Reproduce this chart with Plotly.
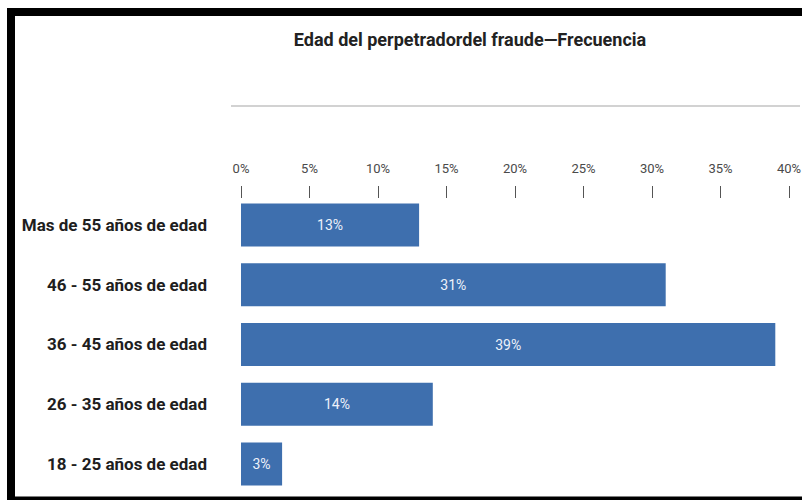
import plotly.graph_objects as go

# Datos
categorias = [
    "18 - 25 años de edad",
    "26 - 35 años de edad",
    "36 - 45 años de edad",
    "46 - 55 años de edad",
    "Mas de 55 años de edad",
]
porcentajes = [3, 14, 39, 31, 13]
ticks_x = [0, 5, 10, 15, 20, 25, 30, 35, 40]
etiquetas_x = ["0%", "5%", "10%", "15%", "20%", "25%", "30%", "35%", "40%"]
titulo = "Edad del perpetradordel fraude—Frecuencia"

# Geometría de la figura (px)
ANCHO, ALTO = 802, 500
M_IZQ, M_DER, M_SUP, M_INF = 241, 13, 199, 10
PW = ANCHO - M_IZQ - M_DER
PH = ALTO - M_SUP - M_INF

FUENTE = "Roboto, Liberation Sans, Arial, sans-serif"
AZUL = "#3E6FAE"


def px_x(x):
    return (x - M_IZQ) / PW


def px_y(y):
    return (ALTO - M_INF - y) / PH


fig = go.Figure(
    go.Bar(
        x=porcentajes,
        y=categorias,
        orientation="h",
        width=0.72,
        marker=dict(color=AZUL, line=dict(width=0)),
        texttemplate="%{x}%",
        textposition="inside",
        insidetextanchor="middle",
        textfont=dict(family=FUENTE, size=14, color="#eef2fa"),
        hoverinfo="skip",
    )
)

fig.update_layout(
    width=ANCHO,
    height=ALTO,
    margin=dict(l=M_IZQ, r=M_DER, t=M_SUP, b=M_INF, autoexpand=False),
    paper_bgcolor="white",
    plot_bgcolor="white",
    showlegend=False,
    title=dict(
        text=titulo,
        font=dict(family=FUENTE, size=18, color="#222222", weight="bold"),
        x=px_x(470),
        xref="paper",
        xanchor="center",
        y=1 - 40 / ALTO,
        yref="container",
        yanchor="middle",
    ),
    xaxis=dict(
        side="top",
        range=[0, 40],
        tickmode="array",
        tickvals=ticks_x,
        ticktext=etiquetas_x,
        ticks="outside",
        ticklen=12,
        tickwidth=1,
        tickcolor="#555555",
        tickfont=dict(family=FUENTE, size=13, color="#4a4a4a"),
        ticklabelstandoff=8,
        ticklabeloverflow="allow",
        showgrid=False,
        zeroline=False,
        showline=False,
        fixedrange=True,
    ),
    yaxis=dict(
        type="category",
        categoryorder="array",
        categoryarray=categorias,
        range=[-0.435, 4.435],
        ticks="",
        tickfont=dict(family=FUENTE, size=17, color="#1e1e1e", weight="bold"),
        ticklabelstandoff=33,
        showgrid=False,
        zeroline=False,
        showline=False,
        fixedrange=True,
    ),
    shapes=[
        # línea gris bajo el título
        dict(type="line", xref="paper", yref="paper",
             x0=px_x(231), x1=px_x(800), y0=px_y(106), y1=px_y(106),
             line=dict(color="#d2d2d2", width=2)),
        # marco negro: arriba, izquierda, abajo
        dict(type="rect", xref="paper", yref="paper",
             x0=px_x(7), x1=px_x(803), y0=px_y(16), y1=px_y(8),
             fillcolor="black", line=dict(width=0)),
        dict(type="rect", xref="paper", yref="paper",
             x0=px_x(7), x1=px_x(15), y0=px_y(501), y1=px_y(8),
             fillcolor="black", line=dict(width=0)),
        dict(type="rect", xref="paper", yref="paper",
             x0=px_x(7), x1=px_x(803), y0=px_y(501), y1=px_y(496.5),
             fillcolor="black", line=dict(width=0)),
    ],
)

fig.write_html("out.html", config={"displayModeBar": False})
